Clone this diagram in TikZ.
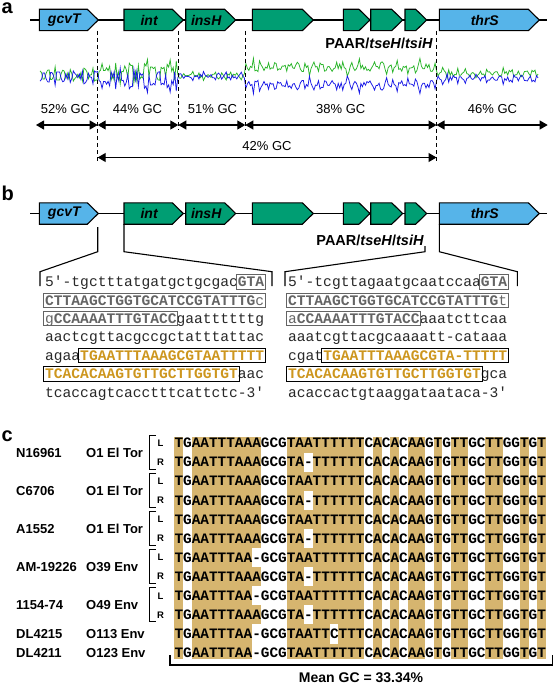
\documentclass[tikz,border=0pt]{standalone}
\usepackage{fontspec}
\setmainfont{Liberation Sans}
\setsansfont{Liberation Sans}
\setmonofont{Liberation Mono}
\usetikzlibrary{arrows.meta}
\definecolor{geneblue}{HTML}{56B4E9}
\definecolor{genegreen}{HTML}{009E73}
\definecolor{gcg}{RGB}{40,180,40}
\definecolor{gcb}{RGB}{25,25,230}
\definecolor{bgrey}{RGB}{100,100,100}
\definecolor{seqorange}{RGB}{205,150,30}
\definecolor{alnshade}{RGB}{214,181,111}
\definecolor{txt}{RGB}{40,40,40}
\newcommand\seqG[1]{\textbf{\color{bgrey}#1}}
\newcommand\seqL[1]{{\color{bgrey}#1}}
\newcommand\seqO[1]{\textbf{\color{seqorange}#1}}
\newcommand\seqframe[5]{\draw[#5, line width=0.9pt] ({#1+#3*8.76-1.5},{#2-12}) rectangle ({#1+#4*8.76+1.5},{#2+2.5});}
\newcommand\mygene[7]{%
  \draw[genebox, fill=#6] (#2,{#5-10.7}) -- ({#3-11},{#5-10.7}) -- (#3,#5) -- ({#3-11},{#5+10.7}) -- (#2,{#5+10.7}) -- cycle;
  \coordinate (#1-bl) at (#2,{#5+10.7});
  \coordinate (#1-tip) at (#3,#5);
  \node[genelab] (#1) at ({(#2+#3-11)/2+1},#5) {#7};}
\def\seqRowA{TGAATTTAAAGCGTAATTTTTTCACACAAGTGTTGCTTGGTGT}
\def\seqRowB{TGAATTTAAAGCGTA-TTTTTTCACACAAGTGTTGCTTGGTGT}
\def\seqRowC{TGAATTTAA-GCGTAATTTTTTCACACAAGTGTTGCTTGGTGT}
\def\seqRowD{TGAATTTAA-GCGTAATTCTTTCACACAAGTGTTGCTTGGTGT}
\begin{document}
\begin{tikzpicture}[x=1pt,y=-1pt,
  genebox/.style={draw=black, line width=1.1pt, line join=miter},
  genelab/.style={font=\fontsize{14}{16}\selectfont\bfseries\itshape, inner sep=0pt},
  paar/.style={font=\fontsize{14.5}{16}\selectfont\bfseries, inner sep=0pt, anchor=east},
  panel/.style={font=\fontsize{20}{22}\selectfont\bfseries, inner sep=0pt, anchor=base west},
  gclab/.style={font=\fontsize{13}{15}\selectfont, inner sep=0pt},
  dimarrow/.style={line width=1.1pt, {Triangle[length=8pt,width=9pt]}-{Triangle[length=8pt,width=9pt]}},
  dashline/.style={dash pattern=on 4pt off 3pt, line width=1pt},
  conn/.style={line width=1.1pt},
  seqline/.style={font=\fontsize{14.6}{16}\selectfont\ttfamily, text=txt, inner sep=0pt, anchor=base west},
  alnrow/.style={font=\fontsize{14.4}{16}\selectfont\ttfamily\bfseries, inner sep=0pt, anchor=base west},
  strain/.style={font=\fontsize{13}{15}\selectfont\bfseries, inner sep=0pt, anchor=west},
  lrlab/.style={font=\fontsize{9.5}{11}\selectfont\bfseries, inner sep=0pt},
  declare function={
    gcoff(\t)=(\t<97.7)*0.5+(\t>=97.7)*(\t<178.3)*5+(\t>=178.3)*(\t<245.3)*0.3+(\t>=245.3)*(\t<436.5)*9+(\t>=436.5)*2.5;
    gcamp(\t)=(\t<97.7)*10+(\t>=97.7)*(\t<178.3)*12+(\t>=178.3)*(\t<245.3)*3.8+(\t>=245.3)*(\t<436.5)*7+(\t>=436.5)*5;
    gcw(\t)=0.45*sin(360*frac(\t/7.6))+0.3*sin(360*frac(\t/3.2)+30)+0.25*sin(360*frac(\t/21)+70);
  }]
\useasboundingbox (0,0) rectangle (553,685);

% ---------------- panel a ----------------
\node[panel] (pa) at (1.5,13.5) {a};
\coordinate (bbA1) at (30,20); \coordinate (bbA2) at (547,20);
\draw[conn] (bbA1) -- (bbA2);
\mygene{gA}{39.3}{98.3}{}{20}{geneblue}{gcvT}
\mygene{iA}{124}{183.3}{}{20}{genegreen}{int}
\mygene{hA}{185.7}{235.7}{}{20}{genegreen}{insH}
\mygene{fA}{252.3}{313.3}{}{20}{genegreen}{}
\mygene{s1A}{343.3}{370}{}{20}{genegreen}{}
\mygene{s2A}{370.7}{402.7}{}{20}{genegreen}{}
\mygene{s3A}{405}{426.7}{}{20}{genegreen}{}
\mygene{tA}{439.3}{539.3}{}{20}{geneblue}{thrS}
\node[paar] (paarA) at (433,43) {PAAR/\textit{tseH}/\textit{tsiH}};

% GC plot
\pgfmathsetseed{11}
\draw[gcg, line width=0.75pt] plot[domain=40:538, samples=330] (\x, {76-gcoff(\x)-gcamp(\x)*(gcw(\x)+0.45*rand)});
\pgfmathsetseed{11}
\draw[gcb, line width=0.75pt] plot[domain=40:538, samples=330] (\x, {76+gcoff(\x)+gcamp(\x)*(gcw(\x)+0.45*rand)});

% dashed separators
\coordinate (d1t) at (97.7,31); \coordinate (d1b) at (97.7,163);
\coordinate (d2t) at (178.3,31); \coordinate (d2b) at (178.3,130);
\coordinate (d3t) at (245.3,31); \coordinate (d3b) at (245.3,130);
\coordinate (d4t) at (436.5,31); \coordinate (d4b) at (436.5,163);
\draw[dashline] (d1t) -- (d1b);
\draw[dashline] (d2t) -- (d2b);
\draw[dashline] (d3t) -- (d3b);
\draw[dashline] (d4t) -- (d4b);

% GC labels and arrows
\node[gclab] (gc1) at (65.5,109) {52\% GC};
\node[gclab] (gc2) at (137.5,109) {44\% GC};
\node[gclab] (gc3) at (212.5,109) {51\% GC};
\node[gclab] (gc4) at (340.8,109) {38\% GC};
\node[gclab] (gc5) at (492.5,109) {46\% GC};
\coordinate (ar0) at (36,125); \coordinate (ar1) at (97.7,125); \coordinate (ar2) at (178.3,125);
\coordinate (ar3) at (245.3,125); \coordinate (ar4) at (436.5,125); \coordinate (ar5) at (547.7,125);
\draw[dimarrow] (ar0) -- (ar1);
\draw[dimarrow] (ar1) -- (ar2);
\draw[dimarrow] (ar2) -- (ar3);
\draw[dimarrow] (ar3) -- (ar4);
\draw[dimarrow] (ar4) -- (ar5);
\node[gclab] (gc6) at (267,146) {42\% GC};
\coordinate (br1) at (97.7,157.5); \coordinate (br2) at (436.5,157.5);
\draw[dimarrow] (br1) -- (br2);

% ---------------- panel b ----------------
\node[panel] (pb) at (1.5,200) {b};
\coordinate (bbB1) at (30,213.5); \coordinate (bbB2) at (547,213.5);
\draw[conn] (bbB1) -- (bbB2);
\mygene{gB}{39.3}{98.3}{}{213.5}{geneblue}{gcvT}
\mygene{iB}{124}{183.3}{}{213.5}{genegreen}{int}
\mygene{hB}{185.7}{235.7}{}{213.5}{genegreen}{insH}
\mygene{fB}{252.3}{313.3}{}{213.5}{genegreen}{}
\mygene{s1B}{343.3}{370}{}{213.5}{genegreen}{}
\mygene{s2B}{370.7}{402.7}{}{213.5}{genegreen}{}
\mygene{s3B}{405}{426.7}{}{213.5}{genegreen}{}
\mygene{tB}{439.3}{539.3}{}{213.5}{geneblue}{thrS}
\node[paar] (paarB) at (424,240) {PAAR/\textit{tseH}/\textit{tsiH}};

% zoom connectors
\coordinate (c1a) at (97.7,227); \coordinate (c1b) at (97.7,251.7); \coordinate (c1c) at (40,271.7); \coordinate (c1d) at (40,286);
\draw[conn] (c1a) -- (c1b) -- (c1c) -- (c1d);
\coordinate (c2b) at (124,251.7); \coordinate (c2c) at (272,271.7); \coordinate (c2d) at (272,286);
\draw[conn] (iB-bl) -- (c2b) -- (c2c) -- (c2d);
\coordinate (c3a) at (425,246); \coordinate (c3b) at (425,251.7); \coordinate (c3c) at (285,271.7); \coordinate (c3d) at (285,286);
\draw[conn] (c3a) -- (c3b) -- (c3c) -- (c3d);
\coordinate (c4b) at (439.3,251.7); \coordinate (c4c) at (517.3,271.7); \coordinate (c4d) at (517.3,286);
\draw[conn] (tB-bl) -- (c4b) -- (c4c) -- (c4d);

% left sequence block
\node[seqline] (L1) at (45,286.6) {5'-tgctttatgatgctgcgac\seqG{GTA}};
\node[seqline] (L2) at (45,305) {\seqG{CTTAAGCTGGTGCATCCGTATTTG}\seqL{c}};
\node[seqline] (L3) at (45,323.4) {\seqL{g}\seqG{CCAAAATTTGTACC}gaattttttg};
\node[seqline] (L4) at (45,341.8) {aactcgttacgccgctatttattac};
\node[seqline] (L5) at (45,360.2) {agaa\seqO{TGAATTTAAAGCGTAATTTTT}};
\node[seqline] (L6) at (45,378.6) {\seqO{TCACACAAGTGTTGCTTGGTGT}aac};
\node[seqline] (L7) at (45,397) {tcaccagtcacctttcattctc-3'};
\seqframe{45}{286.6}{22}{25}{bgrey}
\seqframe{45}{305}{0}{25}{bgrey}
\seqframe{45}{323.4}{0}{15}{bgrey}
\seqframe{45}{360.2}{4}{25}{black}
\seqframe{45}{378.6}{0}{22}{black}

% right sequence block
\node[seqline] (R1) at (288,286.6) {5'-tcgttagaatgcaatccaa\seqG{GTA}};
\node[seqline] (R2) at (288,305) {\seqG{CTTAAGCTGGTGCATCCGTATTTG}\seqL{t}};
\node[seqline] (R3) at (288,323.4) {\seqL{a}\seqG{CCAAAATTTGTACC}aaatcttcaa};
\node[seqline] (R4) at (288,341.8) {aaatcgttacgcaaaatt-cataaa};
\node[seqline] (R5) at (288,360.2) {cgat\seqO{TGAATTTAAAGCGTA-TTTTT}};
\node[seqline] (R6) at (288,378.6) {\seqO{TCACACAAGTGTTGCTTGGTGT}gca};
\node[seqline] (R7) at (288,397) {acaccactgtaaggataataca-3'};
\seqframe{288}{286.6}{22}{25}{bgrey}
\seqframe{288}{305}{0}{25}{bgrey}
\seqframe{288}{323.4}{0}{15}{bgrey}
\seqframe{288}{360.2}{4}{25}{black}
\seqframe{288}{378.6}{0}{22}{black}

% ---------------- panel c ----------------
\node[panel] (pc) at (1.5,441.7) {c};
% shading
\foreach \a/\b in {1/1,3/10,14/22,24/24,26/26,28/29,31/31,33/34,37/38,41/41,43/43}
  \fill[alnshade] ({174.3+(\a-1)*8.64},437) rectangle ({174.3+\b*8.64},659);
\foreach \c/\r in {16/2,16/4,16/6,16/8,16/10,10/7,10/9,10/11,10/12,19/11}
  \fill[white] ({174.3+(\c-1)*8.64},{max(437,443+(\r-1)*19.1-9.55)}) rectangle ({174.3+\c*8.64},{min(659,443+(\r-1)*19.1+9.55)});
% rows
\foreach \i/\s in {1/\seqRowA,2/\seqRowB,3/\seqRowA,4/\seqRowB,5/\seqRowA,6/\seqRowB,7/\seqRowC,8/\seqRowB,9/\seqRowC,10/\seqRowB,11/\seqRowD,12/\seqRowC}
  \node[alnrow] (row\i) at (174.3,{447.7+(\i-1)*19.1}) {\s};
% L/R brackets
\foreach \i in {1,3,5,7,9}{
  \pgfmathsetmacro\yl{443+(\i-1)*19.1}
  \pgfmathsetmacro\yr{443+\i*19.1}
  \coordinate (bk\i a) at (156,\yl-8); \coordinate (bk\i b) at (149,\yl-8);
  \coordinate (bk\i c) at (149,\yr+7); \coordinate (bk\i d) at (156,\yr+7);
  \draw[line width=1pt] (bk\i a) -- (bk\i b) -- (bk\i c) -- (bk\i d);
  \node[lrlab] (lab\i L) at (160.5,\yl) {L};
  \node[lrlab] (lab\i R) at (160.5,\yr) {R};
}
% strain names
\node[strain] (n1) at (16,452.55) {N16961};
\node[strain] (n2) at (16,490.75) {C6706};
\node[strain] (n3) at (16,528.95) {A1552};
\node[strain] (n4) at (16,567.15) {AM-19226};
\node[strain] (n5) at (16,605.35) {1154-74};
\node[strain] (n6) at (16,634) {DL4215};
\node[strain] (n7) at (16,653.1) {DL4211};
\node[strain] (o1) at (86,452.55) {O1 El Tor};
\node[strain] (o2) at (86,490.75) {O1 El Tor};
\node[strain] (o3) at (86,528.95) {O1 El Tor};
\node[strain] (o4) at (86,567.15) {O39 Env};
\node[strain] (o5) at (86,605.35) {O49 Env};
\node[strain] (o6) at (86,634) {O113 Env};
\node[strain] (o7) at (86,653.1) {O123 Env};
% bottom bracket
\coordinate (bb1) at (170,655); \coordinate (bb2) at (170,665); \coordinate (bb3) at (552.5,665); \coordinate (bb4) at (552.5,655);
\draw[line width=1.1pt] (bb1) -- (bb2) -- (bb3) -- (bb4);
\node[font=\fontsize{14}{16}\selectfont\bfseries, inner sep=0pt] (mgc) at (361,678) {Mean GC = 33.34\%};
\end{tikzpicture}
\end{document}
